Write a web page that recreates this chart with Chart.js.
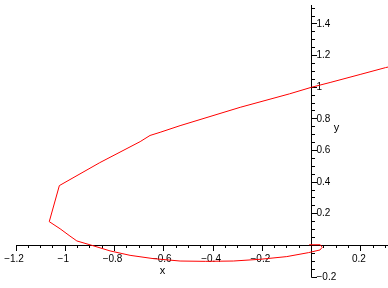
<!DOCTYPE html>
<html>
<head>
    <title>x-y curve</title>
    <script src="https://cdn.jsdelivr.net/npm/chart.js"></script>
    <style>
        body { margin: 0; background: #fff; }
    </style>
</head>
<body>
    <canvas id="chart" width="388" height="288"></canvas>

    <script>
        // curve points (x, y)
        var curveX = [-0.01, 0.035, 0.043, 0.034, -0.013, -0.101, -0.209, -0.318, -0.43, -0.534,
                      -0.642, -0.737, -0.818, -0.892, -0.953, -0.981, -1.021, -1.065, -1.024, -0.86,
                      -0.696, -0.656, -0.615, -0.534, -0.29, -0.09, 0, 0.075, 0.2, 0.3, 0.34];
        var curveY = [0.004, 0.004, -0.012, -0.029, -0.046, -0.071, -0.088, -0.099, -0.101, -0.099,
                      -0.084, -0.063, -0.035, 0.0, 0.028, 0.059, 0.105, 0.150, 0.378, 0.523,
                      0.656, 0.695, 0.715, 0.757, 0.873, 0.958, 1.0, 1.03, 1.082, 1.124, 1.138];

        // tick labels
        var xTickValues = [-1.2, -1, -0.8, -0.6, -0.4, -0.2, 0.2];
        var xTickLabels = ["\u22121.2", "\u22121", "\u22120.8", "\u22120.6", "\u22120.4", "\u22120.2", "0.2"];
        var yTickValues = [-0.2, 0.2, 0.4, 0.6, 0.8, 1, 1.2, 1.4];
        var yTickLabels = ["\u22120.2", "0.2", "0.4", "0.6", "0.8", "1", "1.2", "1.4"];

        var xMin = -1.2, xMax = 0.31;
        var yMin = -0.2, yMax = 1.52;
        var minorStep = 0.05;

        var fontFamily = '"Liberation Sans", Arial, sans-serif';
        Chart.defaults.font.family = fontFamily;
        Chart.defaults.font.size = 10;
        Chart.defaults.color = "#000";

        function alignPx(p) { return Math.round(p - 0.5) + 0.5; }

        // vertical axis on the right side of x = 0, plus axis names
        var axisPlugin = {
            id: "axisPlugin",
            beforeDatasetsDraw: function (chart) {
                var ctx = chart.ctx;
                var xs = chart.scales.x, ys = chart.scales.y;
                var area = chart.chartArea;
                var x0 = alignPx(xs.getPixelForValue(0));
                ctx.save();
                ctx.strokeStyle = "#000";
                ctx.lineWidth = 1;
                ctx.beginPath();
                ctx.moveTo(x0, area.top);
                ctx.lineTo(x0, area.bottom);
                var n = Math.round((yMax - yMin) / minorStep);
                for (var i = 0; i <= n; i++) {
                    var py = alignPx(ys.getPixelForValue(yMin + i * minorStep));
                    ctx.moveTo(x0, py);
                    ctx.lineTo(x0 + 3.5, py);
                }
                yTickValues.forEach(function (v) {
                    var py = alignPx(ys.getPixelForValue(v));
                    ctx.moveTo(x0, py);
                    ctx.lineTo(x0 + 5.5, py);
                });
                ctx.stroke();

                ctx.fillStyle = "#000";
                ctx.font = "10px " + fontFamily;
                ctx.textAlign = "left";
                ctx.textBaseline = "middle";
                yTickValues.forEach(function (v, i) {
                    ctx.fillText(yTickLabels[i], x0 + 5, ys.getPixelForValue(v));
                });

                // axis names
                ctx.font = "11px " + fontFamily;
                ctx.textAlign = "center";
                ctx.fillText("x", xs.getPixelForValue(-0.605), ys.getPixelForValue(0) + 26);
                ctx.fillText("y", x0 + 25, ys.getPixelForValue(0.743));
                ctx.restore();
            }
        };

        var points = curveX.map(function (v, i) { return { x: v, y: curveY[i] }; });

        var chartConfig = {
            type: "scatter",
            data: {
                datasets: [{
                    data: points,
                    showLine: true,
                    borderColor: "#ff0000",
                    borderWidth: 1,
                    pointRadius: 0,
                    tension: 0
                }]
            },
            options: {
                responsive: false,
                animation: false,
                layout: { padding: { left: 16, right: 0, top: 5, bottom: 11 } },
                plugins: { legend: { display: false }, tooltip: { enabled: false } },
                scales: {
                    x: {
                        type: "linear",
                        min: xMin,
                        max: xMax,
                        position: { y: 0 },
                        afterBuildTicks: function (s) {
                            s.ticks = xTickValues.map(function (v) { return { value: v }; });
                        },
                        afterFit: function (s) { s.height = 0; },
                        ticks: {
                            autoSkip: false,
                            maxRotation: 0,
                            padding: 3,
                            labelOffset: -2,
                            color: "#000",
                            font: { size: 10 },
                            callback: function (v, i) { return xTickLabels[i]; }
                        },
                        grid: { drawOnChartArea: false, tickLength: 5, color: "#000" },
                        border: { display: true, color: "#000", width: 1 }
                    },
                    xMinor: {
                        type: "linear",
                        axis: "x",
                        min: xMin,
                        max: xMax,
                        position: { y: 0 },
                        afterBuildTicks: function (s) {
                            var t = [];
                            var n = Math.round((0.3 - xMin) / minorStep);
                            for (var i = 0; i <= n; i++) t.push({ value: xMin + i * minorStep });
                            s.ticks = t;
                        },
                        afterFit: function (s) { s.height = 0; },
                        ticks: { display: false },
                        grid: { drawOnChartArea: false, tickLength: 3, color: "#000" },
                        border: { display: false }
                    },
                    y: {
                        type: "linear",
                        min: yMin,
                        max: yMax,
                        display: false
                    }
                }
            },
            plugins: [axisPlugin]
        };

        var ctx = document.getElementById("chart").getContext("2d");
        var chart = new Chart(ctx, chartConfig);
    </script>
</body>
</html>
